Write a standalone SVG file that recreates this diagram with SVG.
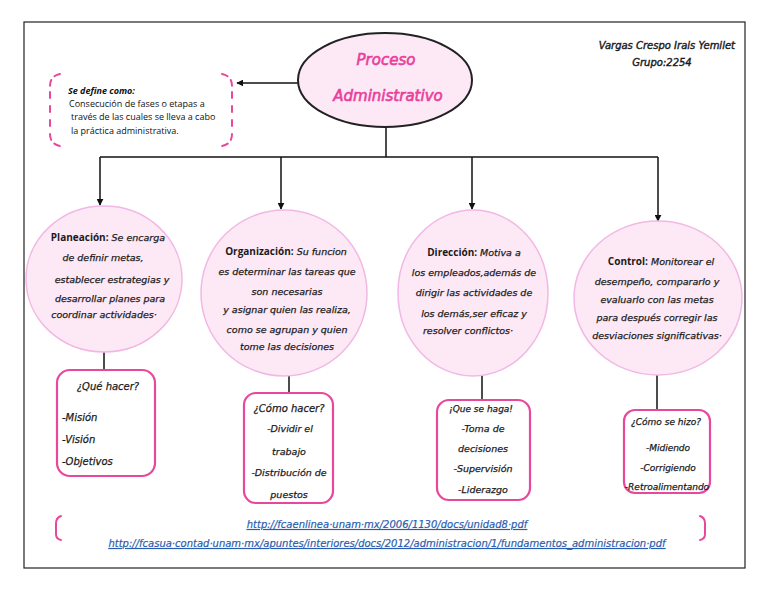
<svg xmlns="http://www.w3.org/2000/svg" width="768" height="594" viewBox="0 0 768 594">
<defs>
<marker id="ah" viewBox="0 0 10 10" refX="9" refY="5" markerWidth="7" markerHeight="7" orient="auto" markerUnits="userSpaceOnUse"><path d="M0,0 L10,5 L0,10 z" fill="#111"/></marker>
<style>
.hand{font-family:"DejaVu Sans","Noto Sans",sans-serif;font-style:oblique;font-size:9.5px;fill:#1a1a1a;stroke:#1a1a1a;stroke-width:0.25;text-anchor:middle}
.bold{font-weight:bold;font-style:normal;font-family:"Open Sans","Liberation Sans",sans-serif;font-size:10px;stroke-width:0}
.circ{fill:#fde8f6;stroke:#f2b8e4;stroke-width:1.5}
.box{fill:#ffffff;stroke:#e8489c;stroke-width:2.2}
.conn{stroke:#111;stroke-width:1.5;fill:none}
.def{font-family:"Open Sans","Liberation Sans",sans-serif;font-size:9px;fill:#111}
.url{font-family:"DejaVu Sans",sans-serif;font-style:oblique;font-size:10px;fill:#2a5db0;stroke:#2a5db0;stroke-width:0.2;text-decoration:underline;text-anchor:middle}
.brk{fill:none;stroke:#e8489c;stroke-width:2;stroke-linecap:round}
.ttl{font-family:"DejaVu Sans",sans-serif;font-style:oblique;font-size:15px;fill:#e8409a;stroke:#e8409a;stroke-width:0.6;text-anchor:middle}
</style>
</defs>
<rect x="0" y="0" width="768" height="594" fill="#ffffff"/>
<rect x="24" y="22" width="721" height="546" fill="none" stroke="#222" stroke-width="1.2"/>

<g id="connectors">
<line class="conn" x1="298" y1="83" x2="237" y2="83" marker-end="url(#ah)"/>
<line class="conn" x1="386" y1="127" x2="386" y2="157"/>
<line class="conn" x1="100" y1="157" x2="658" y2="157"/>
<line class="conn" x1="100" y1="157" x2="100" y2="205" marker-end="url(#ah)"/>
<line class="conn" x1="281" y1="157" x2="281" y2="209" marker-end="url(#ah)"/>
<line class="conn" x1="472" y1="157" x2="472" y2="209" marker-end="url(#ah)"/>
<line class="conn" x1="658" y1="157" x2="658" y2="221" marker-end="url(#ah)"/>
<line class="conn" x1="104" y1="352" x2="104" y2="370"/>
<line class="conn" x1="289" y1="376" x2="289" y2="393"/>
<line class="conn" x1="482" y1="375" x2="482" y2="400"/>
<line class="conn" x1="657" y1="375" x2="657" y2="410"/>
</g>

<g id="title">
<ellipse cx="385" cy="80" rx="87" ry="47" fill="#fde8f6" stroke="#222" stroke-width="2"/>
<text x="386" y="65" class="ttl">Proceso</text>
<text x="388" y="101" class="ttl">Administrativo</text>
</g>

<g id="author">
<text x="735" y="49" class="hand" style="text-anchor:end;font-size:10px;stroke-width:0.4">Vargas Crespo Irais Yemilet</text>
<text x="662" y="66" class="hand" style="font-size:10px;stroke-width:0.4">Grupo:2254</text>
</g>

<g id="definition">
<path class="brk" d="M60,74 Q50,76 50,86 M50,92 V100 M50,106 V114 M50,120 V128 M50,134 Q50,144 60,146" stroke-dasharray="6 5"/>
<path class="brk" d="M222,74 Q232,76 232,86 M232,92 V100 M232,106 V114 M232,120 V128 M232,134 Q232,144 222,146" stroke-dasharray="6 5"/>
<text x="68" y="94" class="def" style="font-weight:bold;font-style:italic">Se define como:</text>
<text x="69" y="107" class="def">Consecución de fases o etapas a</text>
<text x="71" y="120" class="def">través de las cuales se lleva a cabo</text>
<text x="71" y="134" class="def">la práctica administrativa.</text>
</g>

<g id="planeacion">
<ellipse class="circ" cx="104" cy="279" rx="78" ry="73"/>
<text x="108" y="241" class="hand"><tspan class="bold">Planeación:</tspan> Se encarga</text>
<text x="103" y="261" class="hand">de definir metas,</text>
<text x="112" y="283" class="hand">establecer estrategias y</text>
<text x="110" y="302" class="hand">desarrollar planes para</text>
<text x="104" y="318" class="hand">coordinar actividades·</text>
</g>

<g id="organizacion">
<ellipse class="circ" cx="284" cy="293" rx="83" ry="83"/>
<text x="286" y="255" class="hand"><tspan class="bold">Organización:</tspan> Su funcion</text>
<text x="287" y="275" class="hand">es determinar las tareas que</text>
<text x="287" y="295" class="hand">son necesarias</text>
<text x="287" y="313" class="hand">y asignar quien las realiza,</text>
<text x="287" y="333" class="hand">como se agrupan y quien</text>
<text x="287" y="350" class="hand">tome las decisiones</text>
</g>

<g id="direccion">
<ellipse class="circ" cx="473" cy="293" rx="75" ry="83"/>
<text x="474" y="256" class="hand"><tspan class="bold">Dirección:</tspan> Motiva a</text>
<text x="474" y="276" class="hand">los empleados,además de</text>
<text x="474" y="296" class="hand">dirigir las actividades de</text>
<text x="474" y="317" class="hand">los demás,ser eficaz y</text>
<text x="468" y="334" class="hand">resolver conflictos·</text>
</g>

<g id="control">
<ellipse class="circ" cx="658" cy="298" rx="84" ry="77"/>
<text x="661" y="265" class="hand"><tspan class="bold">Control:</tspan>  Monitorear el</text>
<text x="657" y="285" class="hand">desempeño, compararlo y</text>
<text x="657" y="303" class="hand">evaluarlo con las metas</text>
<text x="657" y="321" class="hand">para después corregir las</text>
<text x="657" y="339" class="hand">desviaciones significativas·</text>
</g>

<g id="box-que">
<rect class="box" x="57" y="370" width="98" height="106" rx="13"/>
<text x="108" y="390" class="hand" style="font-size:10px">¿Qué hacer?</text>
<text x="62" y="421" class="hand" style="text-anchor:start;font-size:10px">-Misión</text>
<text x="62" y="443" class="hand" style="text-anchor:start;font-size:10px">-Visión</text>
<text x="62" y="465" class="hand" style="text-anchor:start;font-size:10px">-Objetivos</text>
</g>

<g id="box-como">
<rect class="box" x="244" y="393" width="89" height="110" rx="12"/>
<text x="289" y="412" class="hand" style="font-size:10px">¿Cómo hacer?</text>
<text x="290" y="432" class="hand">-Dividir el</text>
<text x="289" y="455" class="hand">trabajo</text>
<text x="289" y="476" class="hand">-Distribución de</text>
<text x="289" y="498" class="hand">puestos</text>
</g>

<g id="box-haga">
<rect class="box" x="437" y="400" width="93" height="100" rx="12"/>
<text x="481" y="412" class="hand" style="font-size:9px">¡Que se haga!</text>
<text x="483" y="432" class="hand">-Toma de</text>
<text x="483" y="452" class="hand">decisiones</text>
<text x="483" y="472" class="hand">-Supervisión</text>
<text x="483" y="493" class="hand">-Liderazgo</text>
</g>

<g id="box-hizo">
<rect class="box" x="624" y="410" width="86" height="83" rx="11"/>
<text x="666" y="425" class="hand" style="font-size:9px">¿Cómo se hizo?</text>
<text x="668" y="451" class="hand" style="font-size:9px">-Midiendo</text>
<text x="668" y="471" class="hand" style="font-size:9px">-Corrigiendo</text>
<text x="667" y="490" class="hand" style="font-size:9px">-Retroalimentando</text>
</g>

<g id="references">
<path class="brk" d="M61,516 Q56,518 56,523 V534 Q56,539 61,540"/>
<path class="brk" d="M700,516 Q705,518 705,523 V534 Q705,539 700,540"/>
<text x="387" y="528" class="url">http://fcaenlinea·unam·mx/2006/1130/docs/unidad8·pdf</text>
<text x="387" y="547" class="url">http://fcasua·contad·unam·mx/apuntes/interiores/docs/2012/administracion/1/fundamentos_administracion·pdf</text>
</g>
</svg>
